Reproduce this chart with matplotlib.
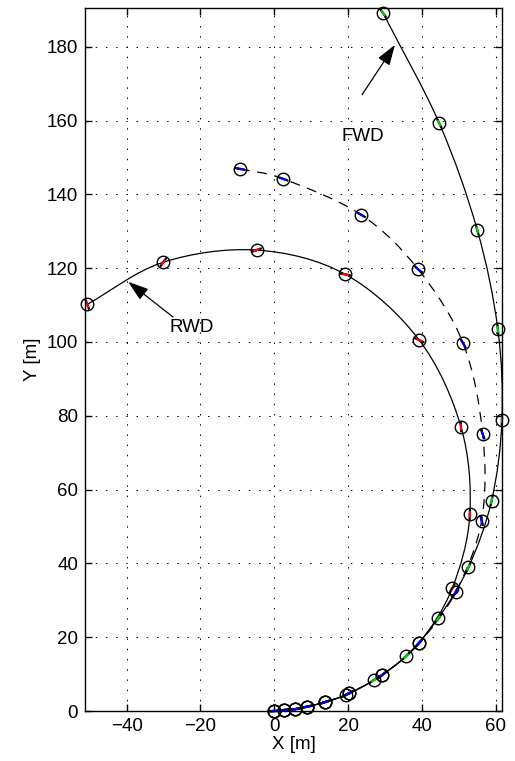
import numpy as np
import matplotlib
matplotlib.use('Agg')
import matplotlib.pyplot as plt
from matplotlib.path import Path
from matplotlib.patches import PathPatch

plt.rcParams['font.family'] = ['Liberation Sans', 'DejaVu Sans']

# vehicle positions sampled at the same time steps for the three runs
fwd_x = [0.0, 2.7, 5.6, 9.0, 13.7, 19.4, 27.0, 35.7, 44.4, 52.6, 58.9, 61.7, 60.6, 55.0, 44.7, 29.5]
fwd_y = [0.0, 0.27, 0.5, 1.2, 2.4, 4.3, 8.4, 14.9, 25.1, 38.9, 57.0, 78.9, 103.4, 130.4, 159.3, 189.1]
fwd_head = [2, 5, 8, 12, 18, 25, 35, 45, 55, 65, 78, 88, 95, 106, 117, 126]

rwd_x = [0.0, 2.7, 5.6, 9.0, 13.7, 20.2, 29.3, 39.3, 48.2, 53.0, 50.6, 39.3, 19.3, -4.8, -30.1, -50.7]
rwd_y = [0.0, 0.27, 0.5, 1.2, 2.4, 4.8, 9.8, 18.5, 33.2, 53.3, 77.0, 100.5, 118.3, 124.9, 121.6, 110.2]
rwd_head = [2, 5, 8, 12, 18, 27, 38, 50, 60, 88, 93, 155, 170, 20, 55, 110]

mid_x = [0.0, 2.7, 5.6, 9.0, 13.7, 20.2, 29.3, 39.3, 49.2, 56.2, 56.5, 51.2, 39.0, 23.5, 2.4, -9.3]
mid_y = [0.0, 0.27, 0.5, 1.2, 2.4, 4.8, 9.8, 18.5, 32.3, 51.6, 75.0, 99.6, 119.7, 134.5, 144.2, 146.9]
mid_head = [2, 5, 8, 12, 18, 27, 38, 47, 62, 105, 110, 120, 138, 150, 160, 170]


def smooth_path(xs, ys):
    # Catmull-Rom through the samples, drawn as cubic Bezier segments
    p = np.column_stack([xs, ys])
    ext = np.vstack([2 * p[0] - p[1], p, 2 * p[-1] - p[-2]])
    verts = [p[0]]
    codes = [Path.MOVETO]
    for i in range(1, len(ext) - 2):
        c1 = ext[i] + (ext[i + 1] - ext[i - 1]) / 6
        c2 = ext[i + 1] - (ext[i + 2] - ext[i]) / 6
        verts += [c1, c2, ext[i + 1]]
        codes += [Path.CURVE4] * 3
    return Path(verts, codes)


fig = plt.figure(figsize=(5.15, 7.61), dpi=100)
ax = fig.add_axes([85 / 515, 50 / 761, 417.3 / 515, 703 / 761])

ax.add_patch(PathPatch(smooth_path(rwd_x, rwd_y), fc='none', ec='k', lw=0.9))
ax.add_patch(PathPatch(smooth_path(fwd_x, fwd_y), fc='none', ec='k', lw=0.9))
ax.add_patch(PathPatch(smooth_path(mid_x, mid_y), fc='none', ec='k', lw=0.9,
                       linestyle=(0, (8, 6))))

half = 1.5
for xs, ys, hs, c in [(fwd_x, fwd_y, fwd_head, '#00cc00'),
                      (rwd_x, rwd_y, rwd_head, 'red'),
                      (mid_x, mid_y, mid_head, 'blue')]:
    for x, y, h in zip(xs, ys, hs):
        dx = half * np.cos(np.radians(h))
        dy = half * np.sin(np.radians(h))
        ax.plot([x - dx, x + dx], [y - dy, y + dy], color='k', lw=1.6,
                solid_capstyle='butt', clip_on=False)
        ax.plot([x - 0.6 * dx, x + 0.6 * dx], [y - 0.6 * dy, y + 0.6 * dy],
                color=c, lw=1.6, solid_capstyle='butt', clip_on=False)
    ax.plot(xs, ys, 'o', mfc='none', mec='k', ms=9, mew=1.0, clip_on=False)

arrow = dict(arrowstyle='-|>,head_length=0.9,head_width=0.3', color='k', lw=0.9,
             mutation_scale=14, shrinkA=0, shrinkB=0)
ax.annotate('', xy=(32.7, 180.5), xytext=(23.8, 167.0), arrowprops=arrow)
ax.text(24.0, 155.8, 'FWD', fontsize=13.5, ha='center', va='center')
ax.annotate('', xy=(-39.6, 116.3), xytext=(-27.5, 106.8), arrowprops=arrow)
ax.text(-22.5, 104.0, 'RWD', fontsize=13.5, ha='center', va='center')

ax.set_xlim(-51.3, 61.8)
ax.set_ylim(0, 190.5)
ax.set_xticks([-40, -20, 0, 20, 40, 60])
ax.set_yticks([0, 20, 40, 60, 80, 100, 120, 140, 160, 180])
ax.grid(True, color='k', lw=0.7, linestyle=(0, (1.5, 9)))
ax.tick_params(direction='in', top=True, right=True, length=5, width=1.0,
               labelsize=13.5, pad=5)
for s in ax.spines.values():
    s.set_linewidth(1.0)
ax.set_xlabel('X [m]', fontsize=13.5, labelpad=1)
ax.set_ylabel('Y [m]', fontsize=13.5, labelpad=4)

fig.savefig('out.png', dpi=100)
